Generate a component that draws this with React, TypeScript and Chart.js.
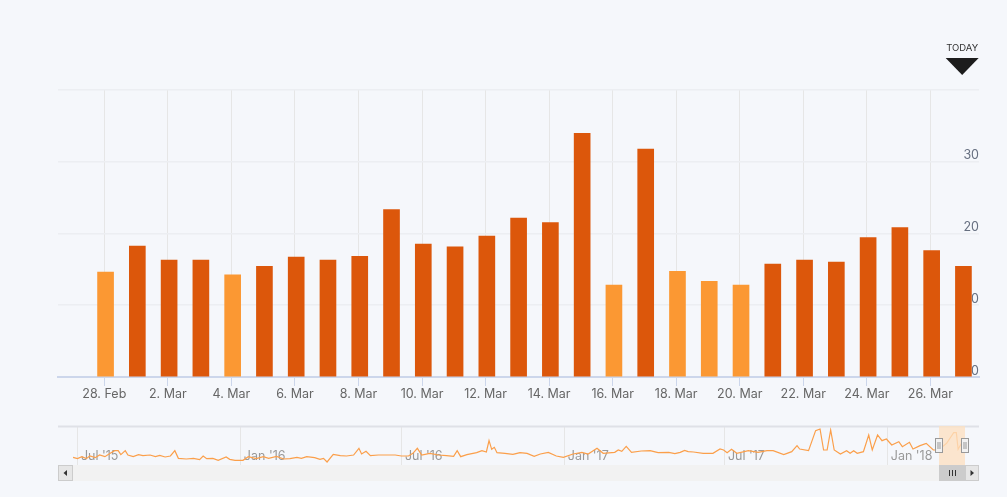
import React, { useEffect, useRef } from "react";
import { Chart, registerables } from "chart.js";

Chart.register(...registerables);

const dayLabels = ["28. Feb", "1. Mar", "2. Mar", "3. Mar", "4. Mar", "5. Mar", "6. Mar", "7. Mar", "8. Mar", "9. Mar", "10. Mar", "11. Mar", "12. Mar", "13. Mar", "14. Mar", "15. Mar", "16. Mar", "17. Mar", "18. Mar", "19. Mar", "20. Mar", "21. Mar", "22. Mar", "23. Mar", "24. Mar", "25. Mar", "26. Mar", "27. Mar"];
const dayValues = [14.6, 18.2, 16.25, 16.25, 14.2, 15.4, 16.7, 16.25, 16.8, 23.3, 18.5, 18.1, 19.6, 22.1, 21.5, 33.9, 12.8, 31.7, 14.7, 13.3, 12.8, 15.7, 16.25, 16, 19.4, 20.8, 17.6, 15.4];
const lightDays = [0, 4, 16, 18, 19, 20];
const yTicks = [0, 10, 20, 30, 40];

const navDays = [-5, 0, 5, 10, 14, 20, 25, 31, 37, 42, 46, 49, 54, 57, 63, 69, 74, 82, 88, 93, 99, 105, 110, 114, 123, 131, 138, 142, 146, 153, 159, 168, 172, 178, 187, 193, 202, 210, 216, 225, 233, 240, 248, 253, 259, 268, 274, 278, 282, 289, 297, 304, 312, 318, 321, 326, 331, 340, 347, 359, 366, 374, 379, 384, 389, 398, 408, 417, 425, 429, 433, 440, 451, 457, 462, 465, 468, 471, 474, 483, 492, 500, 508, 516, 523, 532, 541, 549, 560, 570, 577, 587, 594, 607, 611, 615, 620, 626, 637, 647, 656, 668, 675, 681, 686, 690, 696, 707, 718, 726, 730, 734, 739, 745, 758, 769, 779, 786, 798, 807, 813, 816, 826, 834, 839, 843, 847, 851, 855, 862, 869, 873, 877, 881, 888, 894, 898, 904, 909, 914, 920, 928, 932, 940, 944, 952, 959, 967, 973, 982, 990, 993, 995, 1002];
const navValues = [13, 11, 14, 11, 15, 12.5, 16.5, 14, 19, 23, 23, 17, 23, 16.5, 14, 17, 15.5, 16.5, 14, 16, 13.5, 15, 23, 11.5, 10.5, 11.5, 9.5, 15, 11, 11.5, 8.5, 13.5, 10, 8.5, 8.5, 14, 11, 14, 11.5, 14.5, 10.5, 11, 13, 11.5, 14, 12.5, 10, 11.5, 6, 17.5, 15.5, 15, 16.5, 26.5, 18, 22, 15.5, 16.5, 16.5, 16.5, 15, 15, 19, 26.5, 16.5, 19, 16.5, 15.5, 14.5, 23, 14, 17, 20, 23, 21, 38, 25, 28, 20, 19, 17.5, 20, 19, 14.5, 18, 20.5, 15, 13, 18, 20.5, 18, 26.5, 19, 20.5, 24, 22, 29.5, 20.5, 22.5, 23, 20, 20.5, 18.5, 20.5, 23.5, 21.5, 21, 19, 19, 25.5, 24, 20, 25, 19, 23, 20.5, 23, 23, 17, 21.5, 30.5, 25.5, 23, 53, 55.5, 24, 24, 54, 24, 18, 23, 19, 23, 19, 21.5, 46.5, 24, 46.5, 38, 40.5, 31.5, 36.5, 29, 35.5, 25.5, 30.5, 34, 24, 24, 34, 50, 50, 25, 41.5];
const navTickDays = [0, 184, 366, 550, 731, 915];
const navTickLabels = ["Jul '15", "Jan '16", "Jul '16", "Jan '17", "Jul '17", "Jan '18"];
const selection = [973, 1003];

const FONT = "Inter, 'Open Sans', sans-serif";
const LIGHT = "#fb9833";
const DARK = "#dc570b";
const BG = "#f5f7fb";

const todayPlugin = {
  id: "today",
  afterDraw(chart: any) {
    const { ctx } = chart;
    const x = chart.scales.x.getPixelForValue(27.0);
    ctx.save();
    ctx.fillStyle = "#333";
    ctx.font = `9.5px ${FONT}`;
    ctx.textAlign = "center";
    ctx.textBaseline = "middle";
    ctx.fillText("TODAY", x, 48.5);
    ctx.fillStyle = "#1c1c1c";
    ctx.beginPath();
    ctx.moveTo(x - 16.5, 58);
    ctx.lineTo(x + 16.5, 58);
    ctx.lineTo(x, 75);
    ctx.closePath();
    ctx.fill();
    ctx.restore();
  },
};

const navigatorPlugin = {
  id: "navigatorChrome",
  beforeDatasetsDraw(chart: any) {
    // tick labels sit inside the plot, underneath the line
    const { ctx, chartArea: a } = chart;
    const sx = chart.scales.x;
    ctx.save();
    ctx.fillStyle = "#999999";
    ctx.font = `12.5px ${FONT}`;
    ctx.textAlign = "left";
    ctx.textBaseline = "middle";
    navTickDays.forEach((d, i) => {
      ctx.fillText(navTickLabels[i], sx.getPixelForValue(d) + 3.5, a.bottom - 9.5);
    });
    ctx.restore();
  },
  afterDraw(chart: any) {
    const { ctx, chartArea: a } = chart;
    const sx = chart.scales.x;
    const x0 = Math.round(sx.getPixelForValue(selection[0]));
    const x1 = Math.round(sx.getPixelForValue(selection[1]));
    ctx.save();
    // top rule
    ctx.fillStyle = "#dfe1e7";
    ctx.fillRect(a.left, a.top - 1.5, a.right - a.left, 2);
    // selection mask
    ctx.fillStyle = "rgba(252,224,194,0.78)";
    ctx.fillRect(x0, a.top - 1, x1 - x0, a.bottom - a.top + 1);
    // scrollbar
    const sy = a.bottom - 1;
    const sh = 16;
    ctx.fillStyle = "#f2f2f2";
    ctx.fillRect(a.left, sy, a.right - a.left, sh);
    const button = (x: number, w: number, dir: number) => {
      ctx.fillStyle = "#e6e6e6";
      ctx.strokeStyle = "#cccccc";
      ctx.lineWidth = 1;
      ctx.fillRect(x, sy, w, sh);
      ctx.strokeRect(x + 0.5, sy + 0.5, w - 1, sh - 1);
      const cx = x + w / 2;
      const cy = sy + sh / 2;
      ctx.fillStyle = "#333";
      ctx.beginPath();
      ctx.moveTo(cx + dir * 2, cy);
      ctx.lineTo(cx - dir * 1.5, cy - 3);
      ctx.lineTo(cx - dir * 1.5, cy + 3);
      ctx.closePath();
      ctx.fill();
    };
    button(a.left, 15, -1);
    button(a.right - 14, 14, 1);
    ctx.fillStyle = "#cccccc";
    ctx.fillRect(x0, sy, x1 - x0, sh);
    ctx.strokeStyle = "#333";
    ctx.lineWidth = 1;
    [-3, 0, 3].forEach((d) => {
      const lx = Math.round((x0 + x1) / 2) + d + 0.5;
      ctx.beginPath();
      ctx.moveTo(lx, sy + 5);
      ctx.lineTo(lx, sy + 11);
      ctx.stroke();
    });
    // handles
    [x0, x1].forEach((x) => {
      ctx.fillStyle = "#f2f2f2";
      ctx.strokeStyle = "#999999";
      ctx.lineWidth = 1;
      ctx.fillRect(x - 3.5, a.top + 11.5, 7, 14);
      ctx.strokeRect(x - 3.5, a.top + 11.5, 7, 14);
      [-1, 1].forEach((d) => {
        ctx.beginPath();
        ctx.moveTo(x + d, a.top + 15);
        ctx.lineTo(x + d, a.top + 22);
        ctx.stroke();
      });
    });
    ctx.restore();
  },
};

export default function App() {
  const mainRef = useRef<HTMLCanvasElement>(null);
  const navRef = useRef<HTMLCanvasElement>(null);

  useEffect(() => {
    const main = new Chart(mainRef.current!, {
      type: "bar",
      data: {
        datasets: [
          {
            data: dayValues.map((y, i) => ({ x: i + 0.04, y })),
            backgroundColor: dayValues.map((_, i) => (lightDays.includes(i) ? LIGHT : DARK)),
            barThickness: 16,
            borderWidth: 0,
          },
        ],
      },
      options: {
        responsive: false,
        animation: false,
        layout: { padding: { left: 58, right: 28, top: 89.5, bottom: 10 } },
        plugins: { legend: { display: false }, tooltip: { enabled: false } },
        scales: {
          x: {
            type: "linear",
            offset: false,
            min: -1.457,
            max: 27.53,
            afterBuildTicks: (s: any) => {
              s.ticks = dayLabels.map((_, i) => ({ value: i })).filter((t) => t.value % 2 === 0);
            },
            afterFit: (s: any) => {
              s.height = 33;
            },
            ticks: {
              autoSkip: false,
              maxRotation: 0,
              minRotation: 0,
              padding: 1,
              color: "#666666",
              font: { family: FONT, size: 12.5 },
              callback: (v: any) => dayLabels[v],
            },
            grid: { offset: false, color: "#e6e6e6", lineWidth: 1, tickColor: "#ccd6eb", tickLength: 9 },
            border: { color: "#ccd6eb", width: 2 },
          },
          y: {
            position: "right",
            min: 0,
            max: 40,
            afterBuildTicks: (s: any) => {
              s.ticks = yTicks.map((value) => ({ value }));
            },
            afterFit: (s: any) => {
              s.width = 0;
            },
            ticks: {
              mirror: true,
              padding: 0,
              labelOffset: -6,
              color: "#666f80",
              font: { family: FONT, size: 12.5 },
              callback: (v: any) => (v === 40 ? "" : String(v)),
            },
            grid: { color: "#eceef2", lineWidth: 1.5, drawTicks: false },
            border: { display: false },
          },
        },
      } as any,
      plugins: [todayPlugin],
    });

    const nav = new Chart(navRef.current!, {
      type: "line",
      data: {
        datasets: [
          {
            data: navDays.map((x, i) => ({ x, y: navValues[i] })),
            borderColor: "#fb9f4a",
            borderWidth: 1.2,
            pointRadius: 0,
            tension: 0,
            fill: false,
          },
        ],
      },
      options: {
        responsive: false,
        animation: false,
        layout: { padding: { left: 58, right: 28, top: 7, bottom: 31 } },
        plugins: { legend: { display: false }, tooltip: { enabled: false } },
        scales: {
          x: {
            type: "linear",
            min: -22,
            max: 1018.6,
            afterBuildTicks: (s: any) => {
              s.ticks = navTickDays.map((value) => ({ value }));
            },
            afterFit: (s: any) => {
              s.height = 0;
            },
            ticks: { display: false },
            grid: { color: "#e6e6e6", lineWidth: 1, drawTicks: false },
            border: { display: false },
          },
          y: { display: false, min: 0, max: 58.5 },
        },
      } as any,
      plugins: [navigatorPlugin],
    });

    return () => {
      main.destroy();
      nav.destroy();
    };
  }, []);

  return (
    <div style={{ position: "fixed", left: 0, top: 0, width: 1007, height: 497, background: BG, overflow: "hidden" }}>
      <canvas ref={mainRef} width={1007} height={420} style={{ position: "absolute", left: 0, top: 0, display: "block" }} />
      <canvas ref={navRef} width={1007} height={77} style={{ position: "absolute", left: 0, top: 420, display: "block" }} />
    </div>
  );
}
